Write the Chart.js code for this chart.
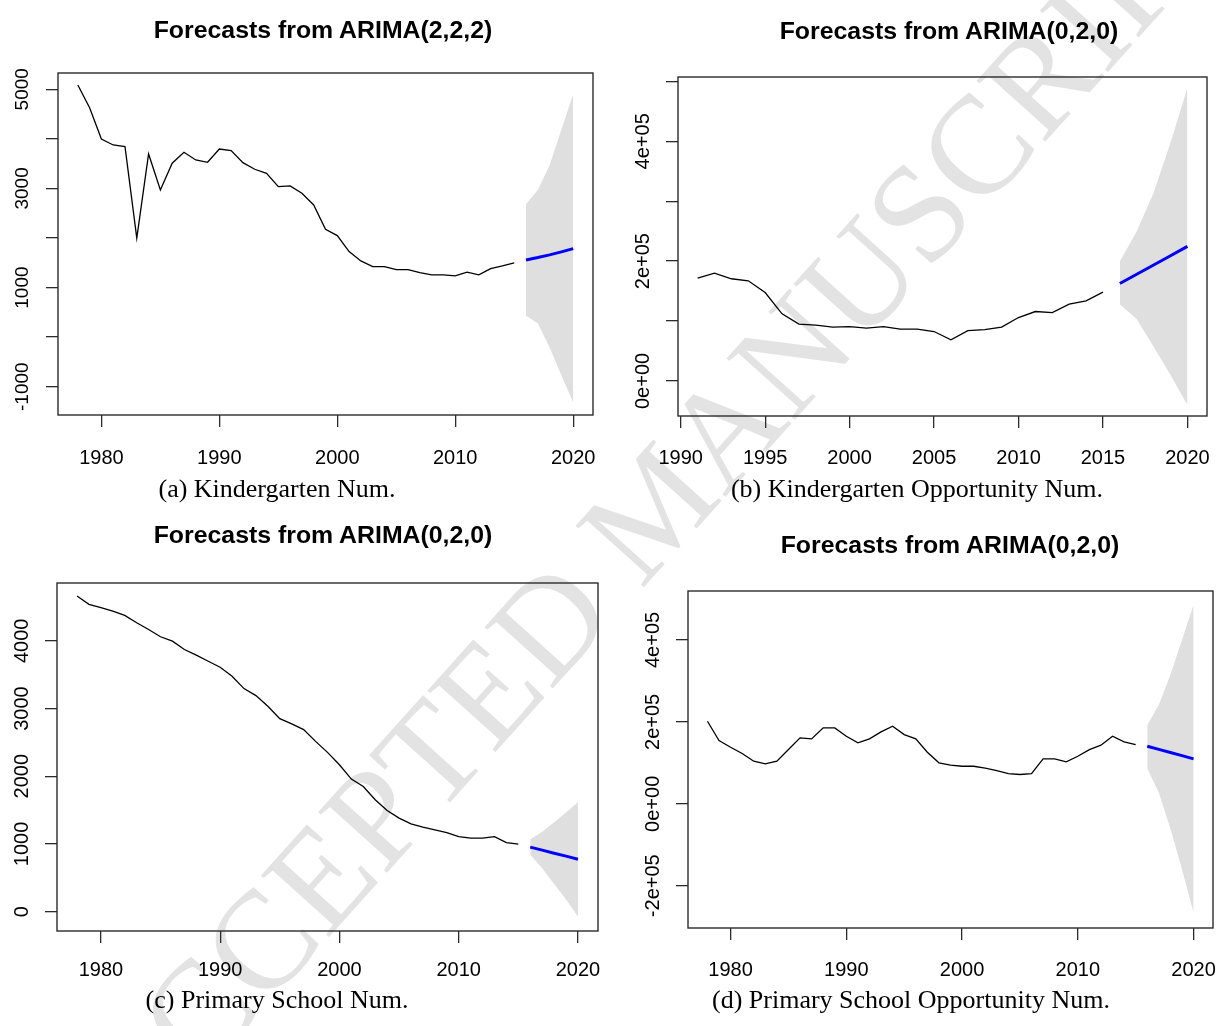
<!DOCTYPE html>
<html>
<head>
<meta charset="utf-8">
<title>ARIMA forecasts</title>
<script src="https://cdn.jsdelivr.net/npm/chart.js@4.4.1/dist/chart.umd.min.js"></script>
<style>
  body { margin: 0; background: #fff; width: 1226px; height: 1026px; overflow: hidden; position: relative; }
  canvas { position: absolute; left: 0; top: 0; }
  .title, .caption, .watermark { position: absolute; white-space: nowrap; transform: translate(-50%, -50%); }
  .title { font: bold 23px "Liberation Sans", Arial, sans-serif; color: #000; transform: translate(-50%, -50%) scaleX(1.08); }
  .caption { font: 26px "Liberation Serif", "Times New Roman", serif; color: #000; }
  .watermark { font: 140px "Liberation Serif", "Times New Roman", serif; color: #e3e3e3; transform: translate(-50%, -50%) rotate(-48deg); }
</style>
</head>
<body>
<div class="watermark" style="left:654px;top:505px">ACCEPTED MANUSCRIPT</div>

<canvas id="chart-a" width="1226" height="1026"></canvas>
<canvas id="chart-b" width="1226" height="1026"></canvas>
<canvas id="chart-c" width="1226" height="1026"></canvas>
<canvas id="chart-d" width="1226" height="1026"></canvas>

<div class="title" style="left:323px;top:30px">Forecasts from ARIMA(2,2,2)</div>
<div class="title" style="left:949px;top:31px">Forecasts from ARIMA(0,2,0)</div>
<div class="title" style="left:323px;top:535px">Forecasts from ARIMA(0,2,0)</div>
<div class="title" style="left:950px;top:545px">Forecasts from ARIMA(0,2,0)</div>

<div class="caption" style="left:277px;top:489px">(a) Kindergarten Num.</div>
<div class="caption" style="left:917px;top:489px">(b) Kindergarten Opportunity Num.</div>
<div class="caption" style="left:277px;top:1000px">(c) Primary School Num.</div>
<div class="caption" style="left:911px;top:1000px">(d) Primary School Opportunity Num.</div>

<script>
(function () {
  "use strict";

  // --- data ---
  var fcYears = [2016, 2017, 2018, 2019, 2020];

  // (a) Kindergarten Num., ARIMA(2,2,2)
  var kinderYears = [1978, 1979, 1980, 1981, 1982, 1983, 1984, 1985, 1986, 1987,
    1988, 1989, 1990, 1991, 1992, 1993, 1994, 1995, 1996, 1997,
    1998, 1999, 2000, 2001, 2002, 2003, 2004, 2005, 2006, 2007,
    2008, 2009, 2010, 2011, 2012, 2013, 2014, 2015];
  var kinderNum = [5087, 4629, 3998, 3877, 3843, 1996, 3696, 2970, 3508, 3730,
    3575, 3528, 3796, 3762, 3520, 3387, 3306, 3036, 3050, 2903,
    2667, 2177, 2048, 1726, 1538, 1423, 1423, 1363, 1363, 1302,
    1256, 1256, 1236, 1310, 1256, 1383, 1437, 1498];
  var kinderNumFc = [1558, 1605, 1659, 1720, 1786];
  var kinderNumHi = [2688, 2970, 3470, 4190, 4899];
  var kinderNumLo = [431, 282, -210, -770, -1319];
  var kinderNumXTicks = [1980, 1990, 2000, 2010, 2020];
  var kinderNumYTicks = [-1000, 0, 1000, 2000, 3000, 4000, 5000];
  var kinderNumYLabels = ["-1000", "", "1000", "", "3000", "", "5000"];

  // (b) Kindergarten Opportunity Num., ARIMA(0,2,0)
  var kinderOppYears = [1991, 1992, 1993, 1994, 1995, 1996, 1997, 1998, 1999, 2000,
    2001, 2002, 2003, 2004, 2005, 2006, 2007, 2008, 2009, 2010,
    2011, 2012, 2013, 2014, 2015];
  var kinderOpp = [171700, 180100, 170600, 167200, 147700, 112000, 94800, 93100, 89800, 90800,
    88100, 90800, 86400, 86400, 82500, 68600, 84100, 85800, 89800, 105900,
    115900, 114200, 128200, 133800, 148300];
  var kinderOppFc = [162700, 178200, 193600, 209100, 224600];
  var kinderOppHi = [199600, 250000, 314000, 398000, 489000];
  var kinderOppLo = [128200, 103000, 57000, 10000, -40000];
  var kinderOppXTicks = [1990, 1995, 2000, 2005, 2010, 2015, 2020];
  var kinderOppYTicks = [0, 100000, 200000, 300000, 400000, 500000];
  var kinderOppYLabels = ["0e+00", "", "2e+05", "", "4e+05", ""];

  // (c) Primary School Num., ARIMA(0,2,0)
  var primaryYears = kinderYears;
  var primaryNum = [4660, 4537, 4488, 4438, 4374, 4266, 4167, 4059, 3994, 3871,
    3787, 3698, 3609, 3476, 3294, 3191, 3033, 2851, 2772, 2688,
    2515, 2352, 2170, 1958, 1849, 1652, 1494, 1382, 1297, 1248,
    1208, 1169, 1109, 1086, 1086, 1109, 1021, 997];
  var primaryNumFc = [953, 909, 864, 820, 775];
  var primaryNumHi = [1067, 1180, 1320, 1465, 1621];
  var primaryNumLo = [839, 640, 410, 180, -71];
  var primaryNumXTicks = [1980, 1990, 2000, 2010, 2020];
  var primaryNumYTicks = [0, 1000, 2000, 3000, 4000];
  var primaryNumYLabels = ["0", "1000", "2000", "3000", "4000"];

  // (d) Primary School Opportunity Num., ARIMA(0,2,0)
  var primaryOppYears = kinderYears;
  var primaryOpp = [201500, 154400, 138000, 122700, 104000, 97500, 104000, 132400, 161000, 158500,
    185400, 185400, 164900, 148800, 158500, 175600, 189300, 169000, 158500, 125900,
    100000, 94200, 91700, 91700, 86900, 81200, 73900, 71500, 73900, 109800,
    109800, 102400, 116100, 132400, 143000, 164900, 151200, 144600];
  var primaryOppFc = [140500, 132800, 125200, 117500, 109800];
  var primaryOppHi = [191700, 242000, 315000, 400000, 486000];
  var primaryOppLo = [86000, 27000, -60000, -160000, -266000];
  var primaryOppXTicks = [1980, 1990, 2000, 2010, 2020];
  var primaryOppYTicks = [-200000, 0, 200000, 400000];
  var primaryOppYLabels = ["-2e+05", "0e+00", "2e+05", "4e+05"];

  // --- layout ---
  var PAGE_W = 1226, PAGE_H = 1026;
  var Y_AXIS_W = 40, X_AXIS_H = 60;
  var FONT = "'Liberation Sans', Arial, sans-serif";

  function points(xs, ys) {
    return xs.map(function (x, i) {
      return { x: x, y: ys[i] };
    });
  }

  // box + rotated y labels, R style
  var rFrame = {
    id: "rFrame",
    afterDraw: function (chart) {
      var o = chart.options.plugins.rFrame;
      var ctx = chart.ctx;
      var area = chart.chartArea;
      var yScale = chart.scales.y;
      ctx.save();
      ctx.strokeStyle = "#2b2b2b";
      ctx.lineWidth = 1.4;
      ctx.strokeRect(area.left, area.top, area.right - area.left, area.bottom - area.top);
      ctx.fillStyle = "#000";
      ctx.font = o.yFontSize + "px " + FONT;
      ctx.textAlign = "center";
      ctx.textBaseline = "middle";
      o.yTicks.forEach(function (v, i) {
        var text = o.yLabels[i];
        if (!text) return;
        ctx.save();
        ctx.translate(area.left - o.yLabelOffset, yScale.getPixelForValue(v));
        ctx.rotate(-Math.PI / 2);
        ctx.fillText(text, 0, 0);
        ctx.restore();
      });
      ctx.restore();
    }
  };

  function makeChart(id, p) {
    var canvas = document.getElementById(id);
    new Chart(canvas, {
      type: "line",
      data: {
        // higher "order" is drawn first, so the band sits under the lines
        datasets: [
          {
            data: points(fcYears, p.hi),
            order: 3,
            borderColor: "transparent",
            borderWidth: 0,
            backgroundColor: "#dfdfdf",
            fill: "+1",
            pointRadius: 0,
            tension: 0
          },
          {
            data: points(fcYears, p.lo),
            order: 4,
            borderColor: "transparent",
            borderWidth: 0,
            fill: false,
            pointRadius: 0,
            tension: 0
          },
          {
            data: points(p.years, p.values),
            order: 1,
            borderColor: "#000",
            borderWidth: 1.3,
            fill: false,
            pointRadius: 0,
            tension: 0
          },
          {
            data: points(fcYears, p.fc),
            order: 0,
            borderColor: "#0000ff",
            borderWidth: 3,
            fill: false,
            pointRadius: 0,
            tension: 0
          }
        ]
      },
      options: {
        responsive: false,
        animation: false,
        events: [],
        layout: {
          padding: {
            left: p.box.left - Y_AXIS_W,
            top: p.box.top,
            right: PAGE_W - p.box.right,
            bottom: PAGE_H - p.box.bottom - X_AXIS_H
          }
        },
        plugins: {
          legend: { display: false },
          tooltip: { enabled: false },
          rFrame: {
            yTicks: p.yTicks,
            yLabels: p.yLabels,
            yFontSize: p.yFontSize,
            yLabelOffset: 35
          }
        },
        scales: {
          x: {
            type: "linear",
            min: p.xMin,
            max: p.xMax,
            border: { display: false },
            grid: { drawOnChartArea: false, drawTicks: true, tickLength: 12, color: "#2b2b2b", lineWidth: 1.3 },
            ticks: {
              color: "#000",
              font: { family: FONT, size: 20 },
              padding: p.xPad,
              maxRotation: 0,
              callback: function (v) { return String(v); }
            },
            afterBuildTicks: function (axis) {
              axis.ticks = p.xTicks.map(function (v) { return { value: v }; });
            },
            afterFit: function (axis) {
              axis.height = X_AXIS_H;
              axis.paddingLeft = 0;
              axis.paddingRight = 0;
            }
          },
          y: {
            type: "linear",
            min: p.yMin,
            max: p.yMax,
            border: { display: false },
            grid: { drawOnChartArea: false, drawTicks: true, tickLength: 12, color: "#2b2b2b", lineWidth: 1.3 },
            ticks: { display: false },
            afterBuildTicks: function (axis) {
              axis.ticks = p.yTicks.map(function (v) { return { value: v }; });
            },
            afterFit: function (axis) {
              axis.width = Y_AXIS_W;
              axis.paddingTop = 0;
              axis.paddingBottom = 0;
            }
          }
        }
      },
      plugins: [rFrame]
    });
  }

  makeChart("chart-a", {
    box: { left: 58, top: 73, right: 593, bottom: 415 },
    years: kinderYears, values: kinderNum,
    fc: kinderNumFc, hi: kinderNumHi, lo: kinderNumLo,
    xMin: 1976.32, xMax: 2021.68, xTicks: kinderNumXTicks, xPad: 19,
    yMin: -1571, yMax: 5329, yTicks: kinderNumYTicks, yLabels: kinderNumYLabels, yFontSize: 19
  });

  makeChart("chart-b", {
    box: { left: 678, top: 77, right: 1207, bottom: 416 },
    years: kinderOppYears, values: kinderOpp,
    fc: kinderOppFc, hi: kinderOppHi, lo: kinderOppLo,
    xMin: 1989.84, xMax: 2021.16, xTicks: kinderOppXTicks, xPad: 18,
    yMin: -58500, yMax: 507400, yTicks: kinderOppYTicks, yLabels: kinderOppYLabels, yFontSize: 20
  });

  makeChart("chart-c", {
    box: { left: 57, top: 583, right: 598, bottom: 931 },
    years: primaryYears, values: primaryNum,
    fc: primaryNumFc, hi: primaryNumHi, lo: primaryNumLo,
    xMin: 1976.32, xMax: 2021.68, xTicks: primaryNumXTicks, xPad: 15,
    yMin: -285, yMax: 4853, yTicks: primaryNumYTicks, yLabels: primaryNumYLabels, yFontSize: 20
  });

  makeChart("chart-d", {
    box: { left: 688, top: 591, right: 1213, bottom: 928 },
    years: primaryOppYears, values: primaryOpp,
    fc: primaryOppFc, hi: primaryOppHi, lo: primaryOppLo,
    xMin: 1976.32, xMax: 2021.68, xTicks: primaryOppXTicks, xPad: 18,
    yMin: -303200, yMax: 519500, yTicks: primaryOppYTicks, yLabels: primaryOppYLabels, yFontSize: 20
  });
})();
</script>
</body>
</html>
